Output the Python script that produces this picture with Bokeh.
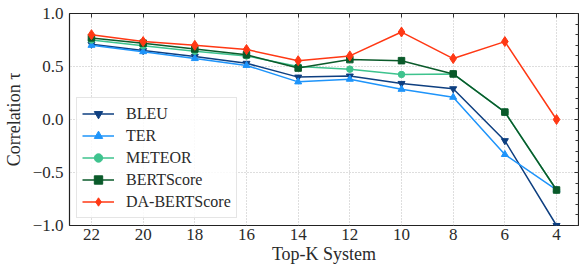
import numpy as np
from bokeh.plotting import figure
from bokeh.models import (Range1d, FixedTicker, SingleIntervalTicker, LinearAxis, Legend)
from bokeh.embed import file_html
from bokeh.resources import INLINE

# ---- data ----
top_k = [22, 20, 18, 16, 14, 12, 10, 8, 6, 4]
bleu = [0.71, 0.65, 0.595, 0.53, 0.40, 0.41, 0.34, 0.29, -0.20, -1.00]
ter = [0.70, 0.64, 0.575, 0.51, 0.355, 0.38, 0.285, 0.21, -0.33, -0.665]
meteor = [0.75, 0.695, 0.645, 0.60, 0.50, 0.475, 0.425, 0.43, 0.07, -0.665]
bertscore = [0.77, 0.72, 0.665, 0.61, 0.485, 0.565, 0.555, 0.43, 0.07, -0.665]
da_bertscore = [0.80, 0.735, 0.70, 0.66, 0.555, 0.60, 0.825, 0.575, 0.735, 0.0]

y_ticks = [-1.0, -0.5, 0.0, 0.5, 1.0]
y_tick_labels = ["\u22121.0", "\u22120.5", "0.0", "0.5", "1.0"]
x_tick_labels = [str(k) for k in top_k]

FONT = "'Liberation Serif', serif"
TXT = "#2a2a2a"

p = figure(width=579, height=266, output_backend="svg", toolbar_location=None,
           x_range=Range1d(22.85, 3.15), y_range=Range1d(-1.0, 1.0),
           min_border_left=0, min_border_right=1, min_border_top=13, min_border_bottom=0)

p.outline_line_color = "#222222"
p.outline_line_width = 1.2
p.background_fill_color = "white"
p.border_fill_color = "white"

# axes
xa = p.xaxis[0]
xa.ticker = FixedTicker(ticks=top_k)
xa.major_label_overrides = {k: s for k, s in zip(top_k, x_tick_labels)}
xa.axis_label = "Top-K System"
ya = p.yaxis[0]
ya.ticker = FixedTicker(ticks=y_ticks)
ya.major_label_overrides = {t: s for t, s in zip(y_ticks, y_tick_labels)}
ya.axis_label = "Correlation \u03c4"
for ax in (xa, ya):
    ax.axis_line_color = None
    ax.major_tick_in = 0
    ax.major_tick_out = 0
    ax.minor_tick_in = 0
    ax.minor_tick_out = 0
    ax.major_label_text_font = FONT
    ax.major_label_text_font_size = "17px"
    ax.major_label_text_color = TXT
    ax.axis_label_text_font = FONT
    ax.axis_label_text_font_size = "18px"
    ax.axis_label_text_font_style = "normal"
    ax.axis_label_text_color = TXT
xa.major_label_standoff = 3
xa.axis_label_standoff = 1
ya.major_label_standoff = 6
ya.axis_label_standoff = 6

# right axis: inward ticks, no labels
ra = LinearAxis(ticker=SingleIntervalTicker(interval=0.5, num_minor_ticks=5),
                major_tick_in=4, major_tick_out=0, minor_tick_in=3, minor_tick_out=0,
                major_label_standoff=0, major_label_text_font_size="0px",
                axis_line_color=None, major_tick_line_color="#333333",
                minor_tick_line_color="#333333")
ra.major_label_text_alpha = 0
p.add_layout(ra, "right")
# top axis: inward ticks, no labels
ta = LinearAxis(ticker=FixedTicker(ticks=top_k),
                major_tick_in=4, major_tick_out=0, minor_tick_in=0, minor_tick_out=0,
                major_label_standoff=0, major_label_text_font_size="0px",
                axis_line_color=None, major_tick_line_color="#333333")
ta.major_label_text_alpha = 0
p.add_layout(ta, "above")

# grid
for g in (p.xgrid[0], p.ygrid[0]):
    g.grid_line_color = "#bdbdbd"
    g.grid_line_dash = "1 2"
    g.grid_line_width = 1
p.xgrid[0].ticker = FixedTicker(ticks=top_k)
p.ygrid[0].ticker = FixedTicker(ticks=y_ticks)

series = [
    ("BLEU", bleu, "#0e3f80", "inverted_triangle", 7),
    ("TER", ter, "#1e94fa", "triangle", 7),
    ("METEOR", meteor, "#3ec38e", "circle", 6.5),
    ("BERTScore", bertscore, "#0a5a2a", "square", 6.5),
    ("DA-BERTScore", da_bertscore, "#ff3814", "diamond", 10),
]

items = []
for name, ys, col, mk, sz in series:
    r1 = p.line(top_k, ys, line_color=col, line_width=1.5)
    r2 = p.scatter(top_k, ys, marker=mk, size=sz,
                   fill_color=col, line_color=col)
    items.append((name, [r1, r2]))

legend = Legend(items=items, location="bottom_left")
legend.margin = 7
legend.padding = 5
legend.spacing = 1
legend.glyph_width = 32
legend.glyph_height = 21
legend.label_standoff = 12
legend.label_text_font = FONT
legend.label_text_font_size = "16px"
legend.label_text_color = TXT
legend.border_line_color = "#cccccc"
legend.border_line_width = 1
legend.background_fill_color = "white"
legend.background_fill_alpha = 0.85
p.add_layout(legend, "center")

open("out.html", "w").write(file_html(p, INLINE))
